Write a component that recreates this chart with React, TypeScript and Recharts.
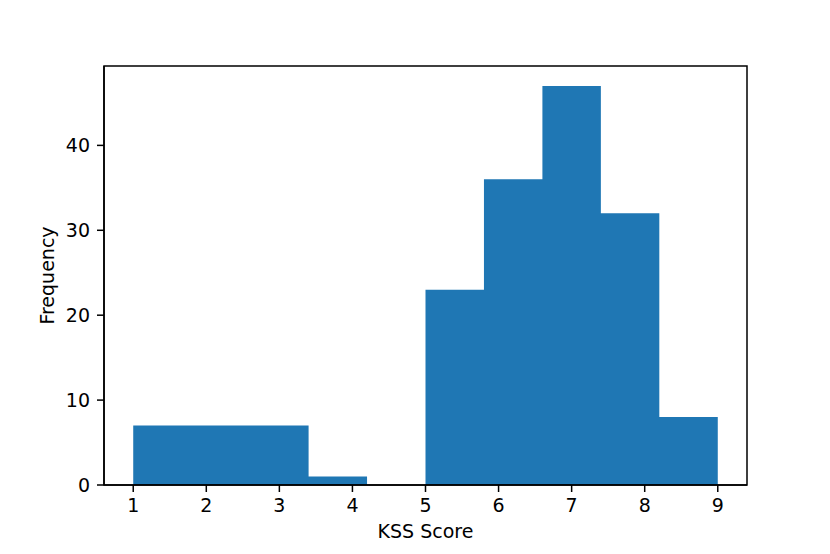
import { ComposedChart, Area, XAxis, YAxis, ReferenceArea, Label } from 'recharts';

// histogram of KSS scores, 10 equal bins between 1 and 9
const binEdges = [1, 1.8, 2.6, 3.4, 4.2, 5.0, 5.8, 6.6, 7.4, 8.2, 9.0];
const binCounts = [7, 7, 7, 1, 0, 23, 36, 47, 32, 8];
const xTicks = [1, 2, 3, 4, 5, 6, 7, 8, 9];
const yTicks = [0, 10, 20, 30, 40];

const X_DOMAIN: [number, number] = [0.6, 9.4];
const Y_DOMAIN: [number, number] = [0, 49.35];

const FONT = '"DejaVu Sans", sans-serif';
const BAR_COLOR = '#1f77b4';

// step area needs a closing point at the last edge
const data = binEdges.map((edge, i) => ({
  edge,
  count: binCounts[Math.min(i, binCounts.length - 1)],
}));

const tickStyle = { fontFamily: FONT, fontSize: 19, fill: '#000' };

const YLabel = ({ viewBox }: any) => {
  const cx = viewBox.x + 54;
  const cy = viewBox.y + viewBox.height / 2;
  return (
    <text
      x={cx}
      y={cy}
      transform={`rotate(-90, ${cx}, ${cy})`}
      textAnchor="middle"
      fontFamily={FONT}
      fontSize={19}
      fill="#000"
    >
      Frequency
    </text>
  );
};

export default function App() {
  return (
    <div style={{ position: 'absolute', left: 0, top: 0, background: '#fff' }}>
      <ComposedChart
        width={830}
        height={554}
        data={data}
        margin={{ top: 66, right: 83, bottom: 0, left: 0 }}
      >
        <XAxis
          dataKey="edge"
          type="number"
          domain={X_DOMAIN}
          ticks={xTicks}
          allowDataOverflow
          height={69}
          tickSize={7}
          tickMargin={7}
          tick={tickStyle}
          axisLine={{ stroke: '#000', strokeWidth: 1.5 }}
          tickLine={{ stroke: '#000', strokeWidth: 1.5 }}
        >
          <Label
            value="KSS Score"
            position="insideBottom"
            offset={16}
            style={{ fontFamily: FONT, fontSize: 19, fill: '#000' }}
          />
        </XAxis>
        <YAxis
          type="number"
          domain={Y_DOMAIN}
          ticks={yTicks}
          allowDataOverflow
          width={104}
          tickSize={7}
          tickMargin={7}
          tick={tickStyle}
          axisLine={{ stroke: '#000', strokeWidth: 1.5 }}
          tickLine={{ stroke: '#000', strokeWidth: 1.5 }}
        >
          <Label content={<YLabel />} />
        </YAxis>
        <Area
          dataKey="count"
          type="stepAfter"
          fill={BAR_COLOR}
          fillOpacity={1}
          stroke="none"
          isAnimationActive={false}
          dot={false}
          activeDot={false}
        />
        <ReferenceArea
          x1={X_DOMAIN[0]}
          x2={X_DOMAIN[1]}
          y1={Y_DOMAIN[0]}
          y2={Y_DOMAIN[1]}
          fill="none"
          stroke="#000"
          strokeWidth={1.5}
          ifOverflow="visible"
        />
      </ComposedChart>
    </div>
  );
}
